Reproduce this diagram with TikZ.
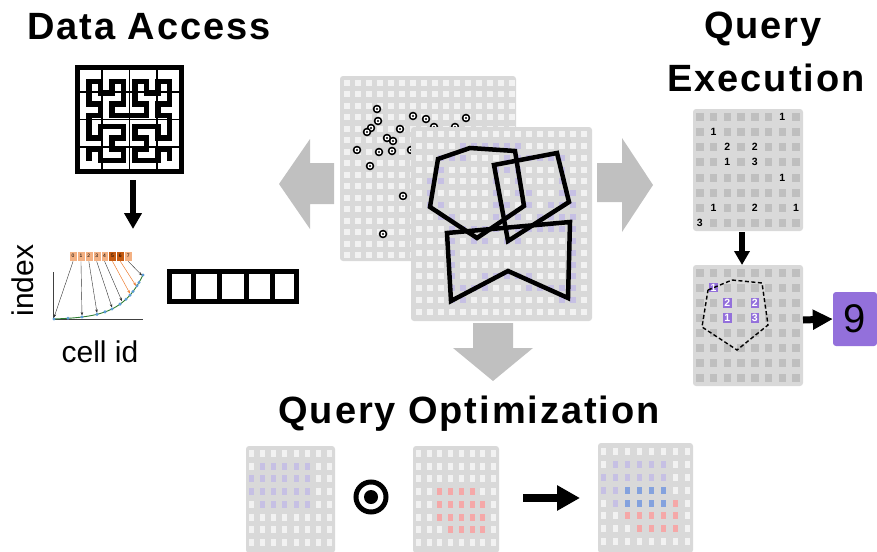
\documentclass[tikz,border=0pt]{standalone}
\usepackage{fontspec}
\setmainfont{Liberation Sans}
\newfontfamily\titlefont[LetterSpace=5]{Liberation Sans}
\usetikzlibrary{arrows.meta}
\definecolor{gbg}{HTML}{D9D9D9}
\definecolor{gsq}{HTML}{F2F2F2}
\definecolor{gdk}{HTML}{BFBFBF}
\definecolor{lav}{RGB}{198,192,228}
\definecolor{pnk}{RGB}{245,168,168}
\definecolor{blu}{RGB}{132,162,222}
\definecolor{purp}{RGB}{147,112,219}
\definecolor{agray}{HTML}{C0C0C0}
\definecolor{lor}{HTML}{F4B183}
\definecolor{dor}{HTML}{C55A11}
\definecolor{oarr}{HTML}{ED7D31}
\definecolor{dotb}{HTML}{5B9BD5}
\definecolor{cgreen}{HTML}{2E7D32}
\newcommand{\gridbg}[4]{\fill[gbg,rounded corners=3pt] (#1,#2) rectangle (#3,#4);}
% x0 y0 px py w h col row color
\newcommand{\gcell}[9]{\fill[#9] ({#1+(#7+0.5)*#3-0.5*#5},{#2+(#8+0.5)*#4-0.5*#6}) rectangle ++(#5,#6);}
\newcommand{\spotmark}[2]{\fill[black] (#1,#2) circle (4.3); \fill[white] (#1,#2) circle (2.5); \fill[black] (#1,#2) circle (1.1);}
\tikzset{
  title/.style={font={\titlefont\bfseries\fontsize{38}{44}\selectfont}, anchor=base, inner sep=0},
  qnum/.style={font={\bfseries\fontsize{10.5}{10.5}\selectfont}, inner sep=0},
  hbox/.style={draw=white, line width=0.3pt, minimum width=7.875pt, minimum height=10pt, inner sep=0, font=\fontsize{5}{5}\selectfont, anchor=north west},
  polyline/.style={draw=black, line width=4.5pt},
  garrow/.style={fill=agray}
}
\begin{document}
\begin{tikzpicture}[x=1pt,y=-1pt]
\useasboundingbox (0,0) rectangle (877,551);

% ---------------- titles
\node[title] (tda) at (149,40) {Data Access};
\node[title] (tq) at (763,38) {Query};
\node[title] (tex) at (766,91) {Execution};
\node[title] (topt) at (469,423) {Query Optimization};

% ---------------- Data access: Hilbert maze
\draw[line width=1.8pt] (102.25,65) -- (102.25,174) (129.5,65) -- (129.5,174) (156.75,65) -- (156.75,174)
  (75,92.25) -- (184,92.25) (75,119.5) -- (184,119.5) (75,146.75) -- (184,146.75);
\begin{scope}[shift={(89,160.6)}, x=11.5pt, y=11.3pt]
\draw[line width=5.5pt] (0,0)--(0,1)--(1,1)--(1,0)--(2,0)--(3,0)--(3,1)--(2,1)--(2,2)--(3,2)--(3,3)--(2,3)--(1,3)--(1,2)--(0,2)--(0,3)--(0,4)--(1,4)--(1,5)--(0,5)--(0,6)--(0,7)--(1,7)--(1,6)--(2,6)--(2,7)--(3,7)--(3,6)--(3,5)--(2,5)--(2,4)--(3,4)--(4,4)--(5,4)--(5,5)--(4,5)--(4,6)--(4,7)--(5,7)--(5,6)--(6,6)--(6,7)--(7,7)--(7,6)--(7,5)--(6,5)--(6,4)--(7,4)--(7,3)--(7,2)--(6,2)--(6,3)--(5,3)--(4,3)--(4,2)--(5,2)--(5,1)--(4,1)--(4,0)--(5,0)--(6,0)--(6,1)--(7,1)--(7,0);
\end{scope}
\node[draw, line width=5pt, minimum size=104pt, inner sep=0] (maze) at (129.5,119.5) {};
\coordinate (mazeA) at (133,180);
\coordinate (chartA) at (133,229);
\draw[line width=5.5pt,-{Triangle[width=17pt,length=16pt]}] (mazeA) -- (chartA);

% ---------------- index chart
\draw[black!75, line width=0.8pt] (53,272) -- (53,319) -- (143,319);
\draw[cgreen, line width=0.9pt] plot[domain=53:143, samples=40] (\x, {319-0.712*(exp(0.046*(\x-53))-1)});
\foreach \xx in {54,68,82,97,105,112,120,126,130,133,137,139,143}
  \fill[dotb] (\xx, {319-0.712*(exp(0.046*(\xx-53))-1)}) circle (1.7);
\foreach \i/\xx in {0/54,1/82,2/97,3/112,4/122,5/130,6/136,7/142}
  \coordinate (d\i) at (\xx, {319-0.712*(exp(0.046*(\xx-53))-1)-1.5});
\foreach \i in {0,...,4,7}
  \node[hbox, fill=lor] (h\i) at ({69+7.875*\i},251) {\i};
\foreach \i in {5,6}
  \node[hbox, fill=dor] (h\i) at ({69+7.875*\i},251) {\i};
\foreach \i in {0,...,4,7}
  \draw[black!80, line width=0.4pt, -{Stealth[length=3.5pt,width=2.5pt]}] (h\i.south) -- (d\i);
\foreach \i in {5,6}
  \draw[oarr, line width=0.5pt, -{Stealth[length=3.5pt,width=2.5pt]}] (h\i.south) -- (d\i);
\node[rotate=90, anchor=base, inner sep=0, font=\fontsize{30}{30}\selectfont] (idx) at (33,280.5) {index};
\node[anchor=base, inner sep=0, font=\fontsize{30}{30}\selectfont] (cid) at (100,362) {cell id};

% array of five cells
\draw[line width=5pt] (169.5,271.5) rectangle (296.5,301.5);
\foreach \xx in {193.4,219.8,246.2,272.6} \draw[line width=5pt] (\xx,271.5) -- (\xx,301.5);

% ---------------- gray arrows
\fill[garrow] (279,184) -- (310,139) -- (310,163) -- (334,163) -- (334,204) -- (310,204) -- (310,229) -- cycle;
\fill[garrow] (653,185) -- (622,138) -- (622,163) -- (597,163) -- (597,202) -- (622,202) -- (622,232) -- cycle;
\fill[garrow] (493,381) -- (453,348) -- (473,348) -- (473,323) -- (513,323) -- (513,348) -- (533,348) -- cycle;

% ---------------- back grid with points
\gridbg{340}{76}{516}{261}
\foreach \i in {0,...,15}{\foreach \j in {0,...,15}{\gcell{341}{77}{11}{11.5}{6}{6}{\i}{\j}{gsq}}}
\foreach \px/\py in {377/109,378/121,413/116,426/119,466/118,371/128,367/132,400/129,387/138,393/141,357/150,379/152,392/151,370/166,403/196,383/234,434/127,455/127,411/150}
  {\spotmark{\px}{\py}}

% ---------------- front grid with polygons
\gridbg{411}{127}{592}{321}
\foreach \i in {0,...,15}{\foreach \j in {0,...,15}{\gcell{413}{128}{11}{11.875}{6}{6}{\i}{\j}{gsq}}}
\foreach \r/\cs in {1/{4,5,6,7,8,9}, 2/{2,3,4,8,9,10,11,12,13}, 3/{2,7,8,9,13}, 4/{1,2,7,9,13},
   5/{1,7,9,10,13,14}, 6/{1,2,7,8,10,12,13,14}, 7/{2,3,7,8,9,11,12,13,14},
   8/{3,4,5,6,7,8,9,10,11,12,13,14}, 9/{3,5,6,8,9,14}, 10/{3,14}, 11/{3,14},
   12/{3,6,7,8,9,10,14}, 13/{3,4,5,6,10,11,12,13,14}, 14/{3,4,13,14}}
  {\foreach \c in \cs {\gcell{413}{128}{11}{11.875}{6}{6}{\c}{\r}{lav}}}
\draw[polyline] (438,159) -- (470,148) -- (515,151) -- (524,206) -- (477,238) -- (430,207) -- cycle;
\draw[polyline] (494,165) -- (557,153) -- (569,202) -- (508,241) -- cycle;
\draw[polyline] (447,233) -- (570,222) -- (568,298) -- (508,271) -- (451,301) -- cycle;

% ---------------- query execution grid 1
\gridbg{693}{109}{803}{231}
\foreach \i in {0,...,7}{\foreach \j in {0,...,7}{\gcell{693}{109}{13.75}{15.25}{7.5}{8}{\i}{\j}{gdk}}}
\foreach \c/\r/\v in {6/0/1,1/1/1,2/2/2,4/2/2,2/3/1,4/3/3,6/4/1,1/6/1,4/6/2,7/6/1,0/7/3}
  {\gcell{693}{109}{13.75}{15.25}{9}{10}{\c}{\r}{gbg}
   \node[qnum] (qa\c\r) at ({693+13.75*(\c+0.5)},{109+15.25*(\r+0.5)}) {\v};}
\coordinate (qeA) at (742,232);
\coordinate (qeB) at (742,265);
\draw[line width=5.5pt,-{Triangle[width=15pt,length=14pt]}] (qeA) -- (qeB);

% ---------------- query execution grid 2
\gridbg{693}{265}{803}{386}
\foreach \i in {0,...,7}{\foreach \j in {0,...,7}{\gcell{693}{265}{13.75}{15.125}{7.5}{8}{\i}{\j}{gdk}}}
\foreach \c/\r/\v in {1/1/1,2/2/2,4/2/2,2/3/1,4/3/3}
  {\gcell{693}{265}{13.75}{15.125}{8.5}{9.5}{\c}{\r}{purp}
   \node[qnum, text=white] (qb\c\r) at ({693+13.75*(\c+0.5)},{265+15.125*(\r+0.5)}) {\v};}
\draw[dashed, dash pattern=on 4pt off 2.5pt, line width=1.4pt] (708,290) -- (732,280) -- (762,283) -- (768,325) -- (737,350) -- (702,327) -- cycle;
\node[fill=purp, rounded corners=3pt, minimum width=44pt, minimum height=54pt, inner sep=0, font=\fontsize{40}{40}\selectfont] (nine) at (855,319) {9};
\coordinate (qe2out) at (803,320);
\draw[line width=7pt,-{Triangle[width=19pt,length=20pt]}] (qe2out) -- (nine.west);

% ---------------- bottom grids
\gridbg{246}{446}{335}{553}
\foreach \i in {0,...,7}{\foreach \j in {0,...,7}{\gcell{246}{447}{11.125}{12.75}{5}{7}{\i}{\j}{gsq}}}
\foreach \r/\cs in {1/{1,2,3,4,5}, 2/{0,1,2,3,4,5}, 3/{0,1,2,3,4,5}, 4/{1,2,3,4,5}}
  {\foreach \c in \cs {\gcell{246}{447}{11.125}{12.75}{5}{7}{\c}{\r}{lav}}}

\gridbg{413}{446}{499}{553}
\foreach \i in {0,...,7}{\foreach \j in {0,...,7}{\gcell{413}{447}{10.75}{12.75}{5}{7}{\i}{\j}{gsq}}}
\foreach \r/\cs in {3/{2,3,4,5}, 4/{2,3,4,5,6}, 5/{2,3,4,5,6}, 6/{3,4,5,6}}
  {\foreach \c in \cs {\gcell{413}{447}{10.75}{12.75}{5}{7}{\c}{\r}{pnk}}}

\gridbg{598}{443}{693}{553}
\foreach \i in {0,...,7}{\foreach \j in {0,...,7}{\gcell{598}{445}{11.875}{12.9}{5}{7}{\i}{\j}{gsq}}}
\foreach \r/\cs in {1/{1,2,3,4,5}, 2/{0,1,2,3,4,5}, 3/{0,1}, 4/{1}}
  {\foreach \c in \cs {\gcell{598}{445}{11.875}{12.9}{5}{7}{\c}{\r}{lav}}}
\foreach \r/\cs in {3/{2,3,4,5}, 4/{2,3,4,5}}
  {\foreach \c in \cs {\gcell{598}{445}{11.875}{12.9}{5}{7}{\c}{\r}{blu}}}
\foreach \r/\cs in {4/{6}, 5/{2,3,4,5,6}, 6/{3,4,5,6}}
  {\foreach \c in \cs {\gcell{598}{445}{11.875}{12.9}{5}{7}{\c}{\r}{pnk}}}

% odot and arrow
\node[draw, line width=5pt, circle, minimum size=30pt, inner sep=0] (odot) at (371,497) {};
\fill (odot.center) circle (7);
\coordinate (oa) at (523,498);
\coordinate (ob) at (580,498);
\draw[line width=8pt,-{Triangle[width=24pt,length=23pt]}] (oa) -- (ob);
\end{tikzpicture}
\end{document}
